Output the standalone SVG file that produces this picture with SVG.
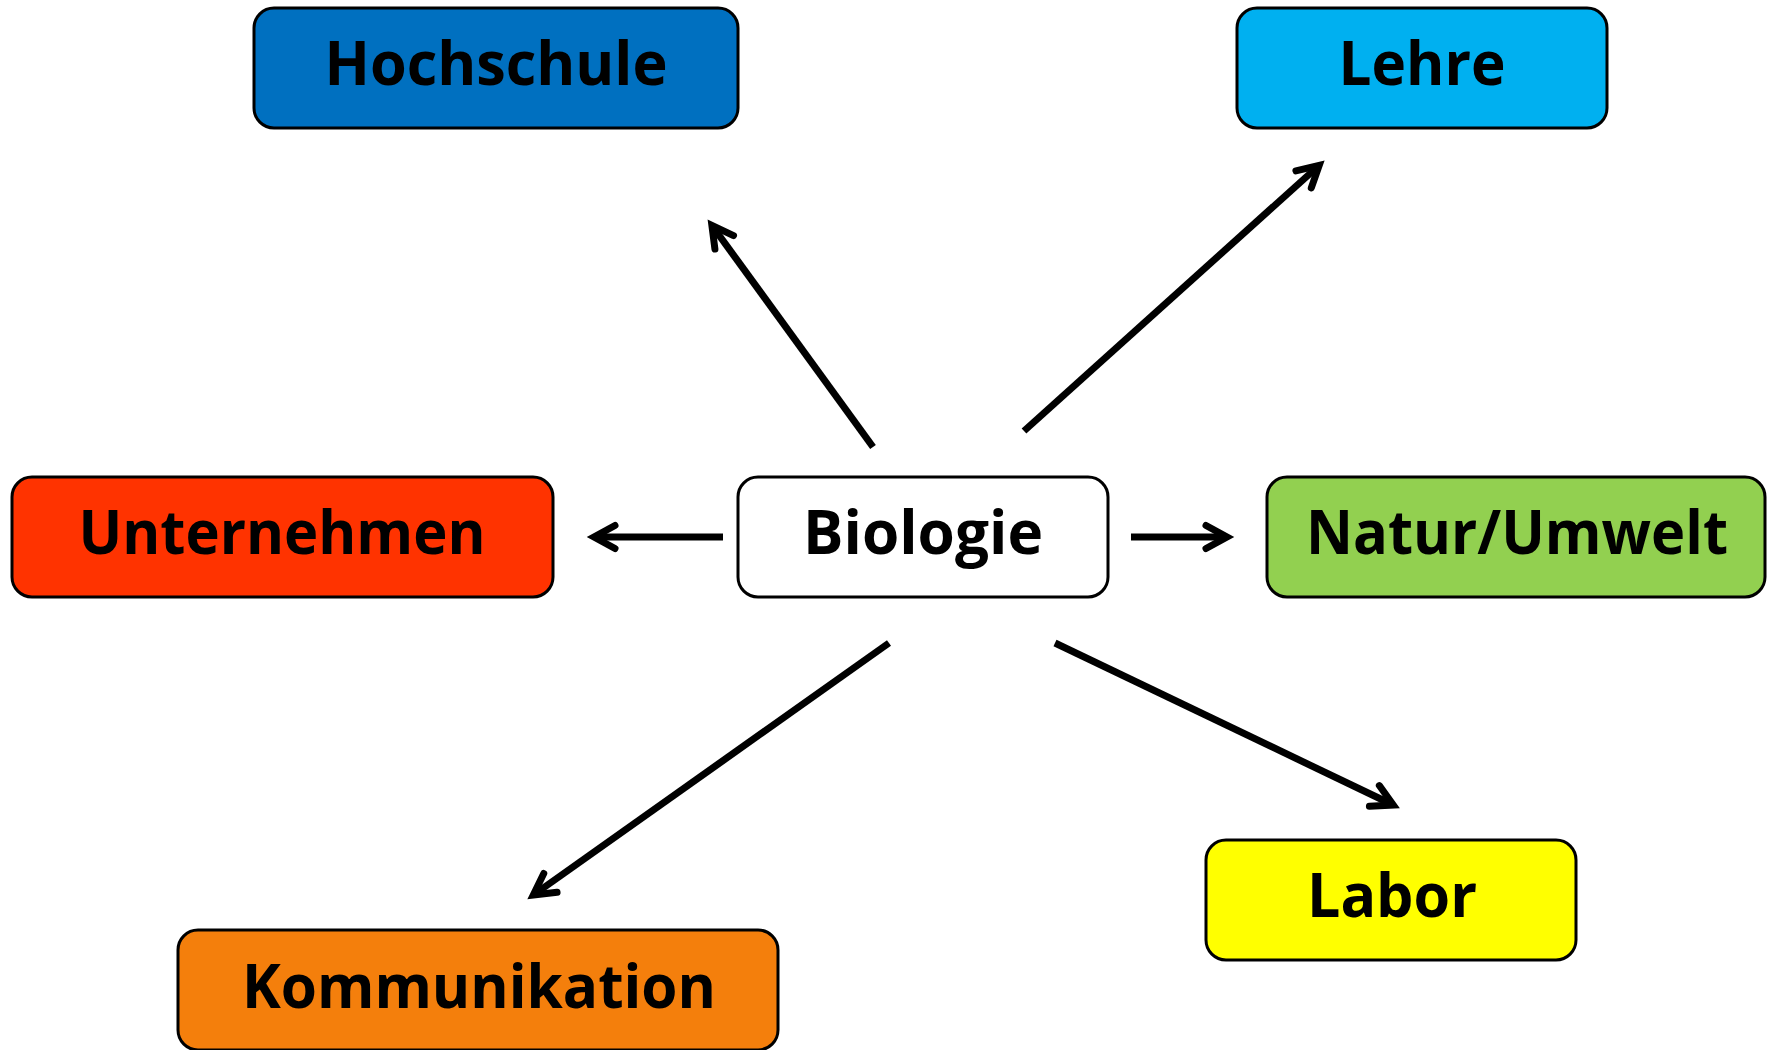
<svg xmlns="http://www.w3.org/2000/svg" width="1773" height="1050" viewBox="0 0 1773 1050">
<defs>
<style>
.box{stroke:#000;stroke-width:3}
.lbl{font-family:"Open Sans","DejaVu Sans",sans-serif;font-weight:bold;font-size:61px;fill:#000;text-anchor:middle}
.edge{stroke:#000;stroke-width:7;fill:none;stroke-linecap:butt}
</style>
<marker id="ah" markerUnits="userSpaceOnUse" viewBox="-40 -25 60 50" refX="-7" refY="0" markerWidth="60" markerHeight="50" orient="auto">
<path d="M -21 -11.5 L 0 0 L -21 11.5" fill="none" stroke="#000" stroke-width="7" stroke-linecap="round" stroke-linejoin="miter" stroke-miterlimit="10"/>
</marker>
</defs>
<rect width="1773" height="1050" fill="#fff"/>
<g id="connectors">
<line class="edge" x1="873" y1="447" x2="716" y2="231" marker-end="url(#ah)"/>
<line class="edge" x1="1024" y1="431" x2="1314" y2="170" marker-end="url(#ah)"/>
<line class="edge" x1="723" y1="537" x2="601" y2="537" marker-end="url(#ah)"/>
<line class="edge" x1="1131" y1="537" x2="1220" y2="537" marker-end="url(#ah)"/>
<line class="edge" x1="889" y1="643" x2="539" y2="891" marker-end="url(#ah)"/>
<line class="edge" x1="1055" y1="643" x2="1387" y2="802" marker-end="url(#ah)"/>
</g>
<g id="hochschule">
<rect class="box" x="254" y="8" width="484" height="120" rx="20" fill="#0070C0"/>
<text class="lbl" x="496" y="85" textLength="343" lengthAdjust="spacingAndGlyphs">Hochschule</text>
</g>
<g id="lehre">
<rect class="box" x="1237" y="8" width="370" height="120" rx="20" fill="#00B0F0"/>
<text class="lbl" x="1422" y="85" textLength="167" lengthAdjust="spacingAndGlyphs">Lehre</text>
</g>
<g id="unternehmen">
<rect class="box" x="12" y="477" width="541" height="120" rx="20" fill="#FF3300"/>
<text class="lbl" x="282" y="554" textLength="407" lengthAdjust="spacingAndGlyphs">Unternehmen</text>
</g>
<g id="biologie">
<rect class="box" x="738" y="477" width="370" height="120" rx="20" fill="#FFFFFF"/>
<text class="lbl" x="923" y="554" textLength="240" lengthAdjust="spacingAndGlyphs">Biologie</text>
</g>
<g id="natur">
<rect class="box" x="1267" y="477" width="498" height="120" rx="20" fill="#92D050"/>
<text class="lbl" x="1517" y="554" textLength="422" lengthAdjust="spacingAndGlyphs">Natur/Umwelt</text>
</g>
<g id="labor">
<rect class="box" x="1206" y="840" width="370" height="120" rx="20" fill="#FFFF00"/>
<text class="lbl" x="1392" y="917" textLength="170" lengthAdjust="spacingAndGlyphs">Labor</text>
</g>
<g id="kommunikation">
<rect class="box" x="178" y="930" width="600" height="120" rx="20" fill="#F47F0C"/>
<text class="lbl" x="479" y="1008" textLength="474" lengthAdjust="spacingAndGlyphs">Kommunikation</text>
</g>
</svg>
